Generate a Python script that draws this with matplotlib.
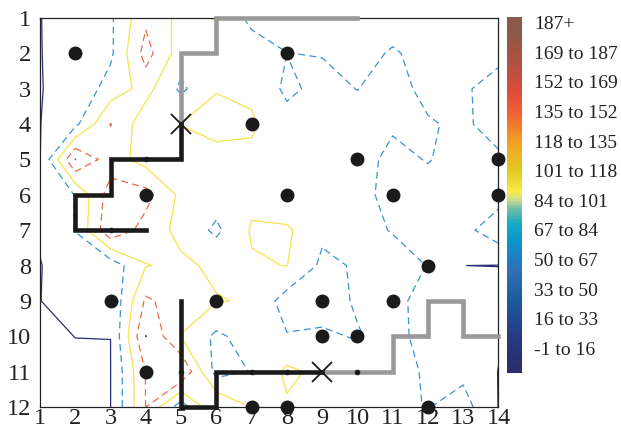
import numpy as np
import matplotlib
matplotlib.use("Agg")
import matplotlib.pyplot as plt
from matplotlib.colors import LinearSegmentedColormap, Normalize
from matplotlib.cm import ScalarMappable

plt.rcParams['font.family'] = ['Liberation Serif', 'DejaVu Serif']

# ---- data ----
x_vals = list(range(1, 15))
y_vals = list(range(1, 13))

row01 = [-1, 20, 42, 140, 85, 103, 35, 35, 30, 30, 35, 30, 30, 30]
row02 = [-1, 15, 40, 170, 74, 70, 80, 50.5, 48, 38, 53.5, 39, 35, 30]
row03 = [-1, 10, 72, 118, 40, 97, 90, 40, 64, 49, 70, 35, 40, 80]
row04 = [-1, 38, 152, 68, 100.5, 120, 107, 68, 70, 70, 55, 55, 40, 75]
row05 = [-1, 201, 123, 81, 88, 80, 89, 70, 70, 65, 40, 52, 35, 40]
row06 = [3, 52, 175, 167, 88, 75, 87, 58, 65, 60, 40, 35, 35, 30]
row07 = [3, 52, 190, 130, 85, 40, 105, 108, 60, 62, 48, 40, 35, 80]
row08 = [-1, 15, 20, 98, 110, 90, 95, 101, 40, 54.5, 65, 49, 0.1, -1]
row09 = [-1, 30, 5, 158, 127, 103, 95, 27, 20, 58, 65, 30, 35, 30]
row10 = [-1, 0.05, 0.05, 201, 98, 40, 73, 53, 60.5, 45, 76, 20, 25, 5]
row11 = [-1, -1, -0.5, 152, 201, 30, 52, 110, 88, 83, 65, 45, 38, -1]
row12 = [-1, -1, -0.5, 151, 21, 152, 98, 94, 80, 70, 60, 48, 70, -1]

contour_levels = [0, 50, 100, 150, 200]

bin_labels = ['-1 to 16', '16 to 33', '33 to 50', '50 to 67', '67 to 84',
              '84 to 101', '101 to 118', '118 to 135', '135 to 152',
              '152 to 169', '169 to 187', '187+']
cbar_min, cbar_max = -1, 204

dots_x = [2, 8, 7, 10, 14, 4, 8, 11, 14, 12, 3, 6, 9, 11, 9, 10, 4, 7, 8, 12]
dots_y = [2, 2, 4, 5, 5, 6, 6, 6, 6, 8, 9, 9, 9, 9, 10, 10, 11, 12, 12, 12]

small_x = [4, 3, 5, 7, 8, 10]
small_y = [5, 7, 11, 11, 11, 11]

black1_x = [5, 5, 3, 3, 2, 2, 4]
black1_y = [4, 5, 5, 6, 6, 7, 7]
gray1_x = [5, 5, 6, 6, 10]
gray1_y = [4, 2, 2, 1, 1]
black2_x = [5, 5, 6, 6, 9]
black2_y = [9, 12, 12, 11, 11]
gray2_x = [9, 11, 11, 12, 12, 13, 13, 14]
gray2_y = [11, 11, 10, 10, 9, 9, 10, 10]

cross_x = [5, 9]
cross_y = [4, 11]

# ---- styles ----
Z = np.array([row01, row02, row03, row04, row05, row06,
              row07, row08, row09, row10, row11, row12], dtype=float)
X, Y = np.meshgrid(x_vals, y_vals)

cmap = LinearSegmentedColormap.from_list('bar', [
    (0.00, '#2d2a6b'), (0.10, '#263a82'), (0.20, '#1d5a9b'),
    (0.29, '#2e71b8'), (0.37, '#0b95cc'), (0.42, '#16a9c4'),
    (0.46, '#6cbdaa'), (0.49, '#d3e18a'), (0.51, '#f8ea45'),
    (0.57, '#e3c922'), (0.65, '#f1a125'), (0.73, '#ef6233'),
    (0.79, '#de4c3a'), (0.86, '#b8503f'), (0.96, '#8c5848'),
    (1.00, '#8a5a4a')])
norm = Normalize(cbar_min, cbar_max)

line_colors = ['#2b2d78', '#3b92d4', '#f5e54a', '#ef6a48', '#8a4a3c']
line_styles = ['solid', (0, (5.5, 3.5)), 'solid', (0, (5.5, 3.5)), 'solid']

fig = plt.figure(figsize=(6.21, 4.30), dpi=100)
ax = fig.add_axes([40/621, 23/430, 458.5/621, 389/430])

cs = ax.contour(X, Y, Z, levels=contour_levels, colors=line_colors,
                linewidths=0.9)
cs.set_linestyle(line_styles)

lw_path = 3.3
ax.plot(gray1_x, gray1_y, color='#999999', lw=lw_path, solid_joinstyle='miter',
        clip_on=False, zorder=3)
ax.plot(gray2_x, gray2_y, color='#999999', lw=lw_path, solid_joinstyle='miter',
        clip_on=False, zorder=3)
ax.plot(black1_x, black1_y, color='#1a1a1a', lw=lw_path, solid_joinstyle='miter',
        clip_on=False, zorder=4)
ax.plot(black2_x, black2_y, color='#1a1a1a', lw=lw_path, solid_joinstyle='miter',
        clip_on=False, zorder=4)
ax.plot(small_x, small_y, 'o', color='#1a1a1a', ms=3, clip_on=False, zorder=5)
ax.plot(dots_x, dots_y, 'o', color='#1a1a1a', ms=9, clip_on=False, zorder=6)
ax.plot(cross_x, cross_y, 'x', color='#1a1a1a', ms=15, mew=1.3,
        clip_on=False, zorder=7)

ax.set_xlim(1, 14)
ax.set_ylim(12, 1)
ax.set_xticks(x_vals)
ax.set_yticks(y_vals)
ax.tick_params(length=0, labelsize=17.5, colors='#222222')
ax.tick_params(axis='x', pad=0.5)
ax.tick_params(axis='y', pad=6.5)
for s in ax.spines.values():
    s.set_color('#222222')
    s.set_linewidth(0.9)

cax = fig.add_axes([507/621, 56.7/430, 15/621, 356/430])
sm = ScalarMappable(norm=norm, cmap=cmap)
cb = fig.colorbar(sm, cax=cax)
cb.outline.set_visible(False)
tick_pos = np.linspace(13.4, 200.9, len(bin_labels))
cb.set_ticks(tick_pos)
cb.set_ticklabels(bin_labels)
cax.tick_params(length=0, labelsize=14, pad=9, colors='#222222')

fig.savefig('out.png', dpi=100)
